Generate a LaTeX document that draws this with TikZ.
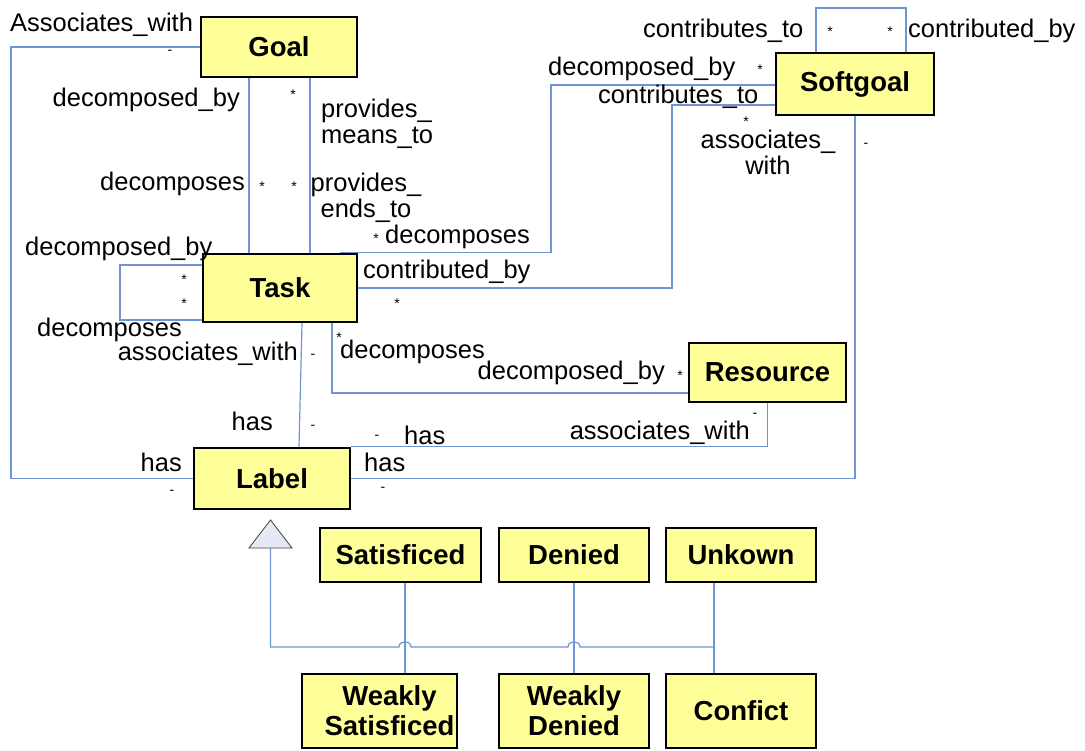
\documentclass[tikz,border=0pt]{standalone}
\usepackage{fontspec}
\setmainfont{Liberation Sans}
\definecolor{connblue}{HTML}{6E95D6}
\definecolor{boxyellow}{HTML}{FFFF99}
\definecolor{trifill}{HTML}{E4E9F3}
\begin{document}
\begin{tikzpicture}[x=1pt,y=-1pt,
  conn/.style={draw=connblue, line width=1.2pt},
  box/.style={draw=black, line width=2.5pt, fill=boxyellow, inner sep=0pt,
    align=center, font=\bfseries\fontsize{27.5}{30}\selectfont},
  lbl/.style={inner sep=0pt, font=\fontsize{25.5}{26}\selectfont},
  mult/.style={inner sep=0pt, font=\fontsize{14}{14}\selectfont}]
\useasboundingbox (0,0) rectangle (1085,751);

% classes
\node[box, minimum width=156pt, minimum height=60pt] (goal) at (279,47) {Goal};
\node[box, minimum width=158pt, minimum height=62pt] (soft) at (855,84) {Softgoal};
\node[box, minimum width=154pt, minimum height=68pt] (task) at (280,288) {Task};
\node[box, minimum width=157pt, minimum height=59pt] (res) at (767.5,372.5) {Resource};
\node[box, minimum width=156pt, minimum height=61pt] (label) at (272,478.5) {Label};

\node[box, minimum width=161pt, minimum height=54pt] (sat) at (400.5,555) {Satisficed};
\node[box, minimum width=150pt, minimum height=54pt] (den) at (574,555) {Denied};
\node[box, minimum width=150pt, minimum height=54pt] (unk) at (741,555) {Unkown};
\node[box, minimum width=155pt, minimum height=74pt] (wsat) at (379.5,711)
  {\hspace*{20pt}Weakly\\\hspace*{20pt}Satisficed};
\node[box, minimum width=150pt, minimum height=74pt] (wden) at (574,711) {Weakly\\Denied};
\node[box, minimum width=150pt, minimum height=74pt] (conf) at (741,711) {Confict};

% routing points
\coordinate (ga) at (11,47);
\coordinate (gd) at (249,0);
\coordinate (gm) at (310,0);
\coordinate (tdA) at (551,85);
\coordinate (tcA) at (672,105);
\coordinate (slA) at (816,8);
\coordinate (slB) at (906,8);
\coordinate (tlA) at (120,265);
\coordinate (tlB) at (120,320);
\coordinate (trA) at (332,393);

% associations
\draw[conn] (goal.west) -- (ga) |- (label.west);
\draw[conn] (goal.south -| gd) -- (task.north -| gd);
\draw[conn] (goal.south -| gm) -- (task.north -| gm);
\draw[conn] ([xshift=60pt]task.north) -| (tdA) -- (soft.west |- tdA);
\draw[conn] (task.east) -| (tcA) -- (soft.west |- tcA);
\draw[conn] (soft.north -| slA) -- (slA) -- (slB) -- (soft.north -| slB);
\draw[conn] (soft.south) |- (label.east);
\draw[conn] (task.west |- tlA) -- (tlA) -- (tlB) -- (task.west |- tlB);
\draw[conn] ([xshift=22pt]task.south) -- ([xshift=27pt]label.north);
\draw[conn] (task.south -| trA) -- (trA) -- (res.west |- trA);
\draw[conn] (res.south) |- (label.north east);

% generalization
\draw[draw=black!75, fill=trifill, line width=0.8pt] (249,548) -- (270.5,520) -- (292,548) -- cycle;
\coordinate (gen) at (270.5,548);
\coordinate (hopA) at (405,647);
\coordinate (hopB) at (574,647);
\coordinate (junc) at (714,647);
\draw[conn] (gen) -- (270.5,647) -- (399,647) .. controls (399,640) and (411,640) .. (411,647)
  -- (568,647) .. controls (568,640) and (580,640) .. (580,647) -- (junc);
\draw[conn] (sat.south -| hopA) -- (wsat.north -| hopA);
\draw[conn] (den.south) -- (wden.north);
\draw[conn] (unk.south -| junc) -- (conf.north -| junc);

% role names and multiplicities
\node[lbl, anchor=base west] (l1) at (10,32) {Associates\_with};
\node[mult] (m1) at (170,52) {-};
\node[lbl, anchor=base east] (l2) at (240,107) {decomposed\_by};
\node[lbl, anchor=base east] (l3) at (245,191) {decomposes};
\node[mult] (m2) at (262,187) {*};
\node[mult] (m3) at (294,187) {*};
\node[mult] (m4) at (293,95) {*};
\node[lbl, anchor=north west, align=left] (l4) at (321,99) {provides\_\\means\_to};
\node[lbl, anchor=north, align=center] (l5) at (366,173) {provides\_\\ends\_to};
\node[mult] (m5) at (376,239) {*};
\node[lbl, anchor=base west] (l6) at (385,244) {decomposes};
\node[lbl, anchor=base west] (l7) at (548,76) {decomposed\_by};
\node[mult] (m6) at (760,70) {*};
\node[lbl, anchor=base west] (l8) at (598,104) {contributes\_to};
\node[mult] (m7) at (746,122) {*};
\node[lbl, anchor=north, align=center] (l9) at (768,130) {associates\_\\with};
\node[mult] (m8) at (866,145) {-};
\node[lbl, anchor=base west] (l10) at (643,38) {contributes\_to};
\node[mult] (m9) at (830,32) {*};
\node[mult] (m10) at (890,32) {*};
\node[lbl, anchor=base west] (l11) at (908,38) {contributed\_by};
\node[lbl, anchor=base west] (l12) at (25,256) {decomposed\_by};
\node[mult] (m11) at (184,280) {*};
\node[mult] (m12) at (184,304) {*};
\node[lbl, anchor=base west] (l13) at (37,337) {decomposes};
\node[lbl, anchor=base west] (l14) at (363,279) {contributed\_by};
\node[mult] (m13) at (397,304) {*};
\node[lbl, anchor=base east] (l15) at (298,361) {associates\_with};
\node[mult] (m14) at (313,356) {-};
\node[mult] (m15) at (339,338) {*};
\node[lbl, anchor=base west] (l16) at (340,359) {decomposes};
\node[lbl, anchor=base east] (l17) at (665,380) {decomposed\_by};
\node[mult] (m16) at (680,376) {*};
\node[lbl, anchor=base east] (l18) at (273,431) {has};
\node[mult] (m17) at (313,427) {-};
\node[mult] (m18) at (377,437) {-};
\node[lbl, anchor=base west] (l19) at (404,444) {has};
\node[mult] (m19) at (755,415) {-};
\node[lbl, anchor=base east] (l20) at (750,439) {associates\_with};
\node[lbl, anchor=base east] (l21) at (182,471) {has};
\node[mult] (m20) at (172,492) {-};
\node[lbl, anchor=base west] (l22) at (364,471) {has};
\node[mult] (m21) at (383,489) {-};
\end{tikzpicture}
\end{document}
